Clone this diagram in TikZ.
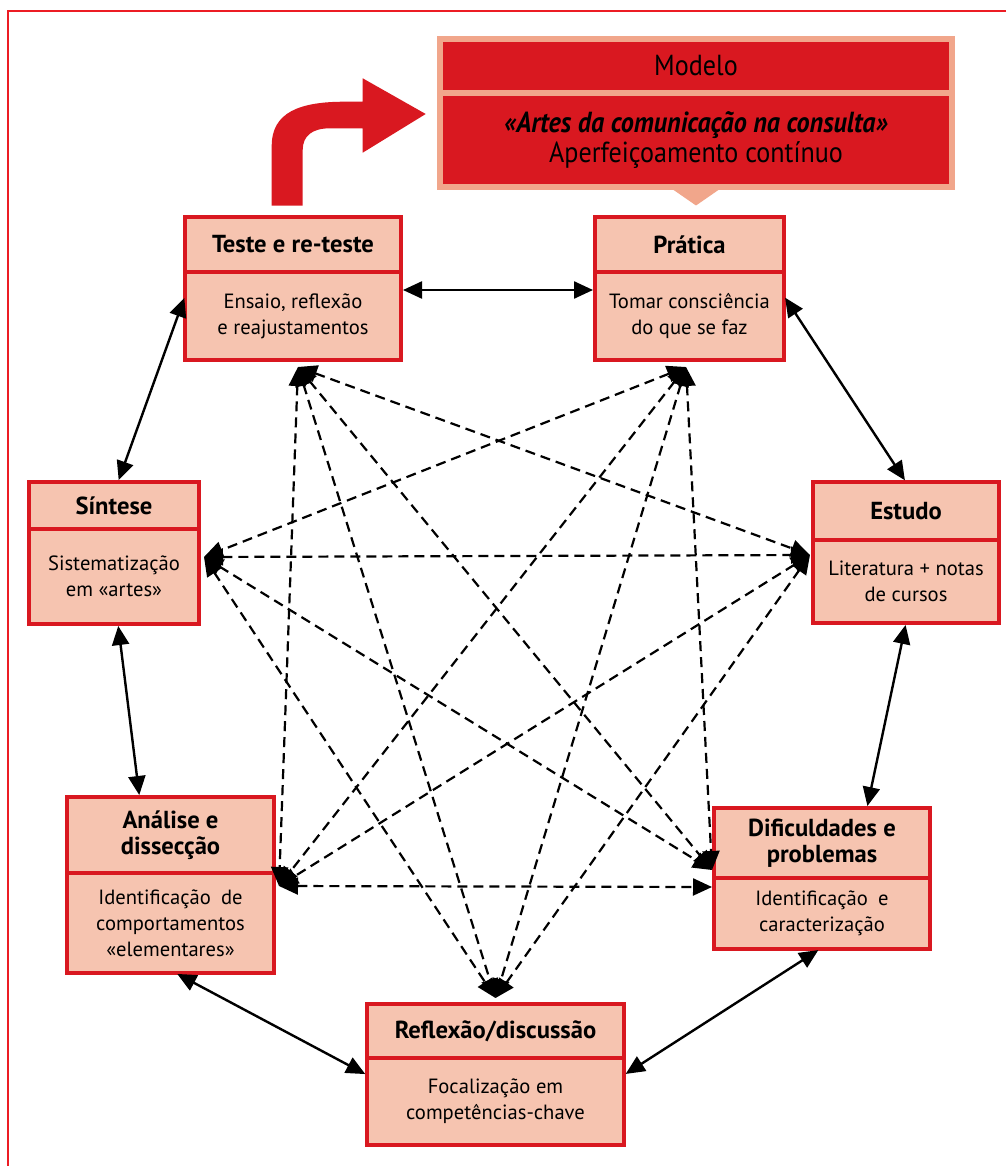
\documentclass[tikz,border=0pt]{standalone}
\usepackage{fontspec}
\setmainfont{PT Sans}
\newfontfamily\estreita[FakeStretch=0.9]{PT Sans}
\usetikzlibrary{arrows.meta}
\usetikzlibrary{positioning}
\definecolor{vermelho}{RGB}{217,24,32}
\definecolor{salmao}{RGB}{246,196,176}
\definecolor{salmaoforte}{RGB}{241,166,139}
\definecolor{moldura}{RGB}{236,28,36}

\begin{document}
\begin{tikzpicture}[x=0.5pt,y=-0.5pt]
	\tikzstyle{titulo}=[draw=vermelho,fill=salmao,line width=2.2pt,outer sep=0pt,align=center,font=\bfseries\fontsize{12.3}{13}\selectfont]
	\tikzstyle{corpo}=[draw=vermelho,fill=salmao,line width=2.2pt,outer sep=0pt,align=center,font=\fontsize{10.3}{13}\selectfont]
	\tikzstyle{modelo}=[draw=salmaoforte,fill=vermelho,line width=3pt,outer sep=0pt,minimum width=256pt,align=center,font=\estreita\fontsize{14.5}{15}\selectfont]
	\tikzstyle{liga}=[{Triangle[length=9.5pt,width=8.5pt]}-{Triangle[length=9.5pt,width=8.5pt]},line width=1.2pt,shorten >=1pt,shorten <=1pt]
	\tikzstyle{tracejado}=[liga,line width=1.1pt,shorten >=0pt,shorten <=0pt,dash pattern=on 5pt off 3pt]
	\useasboundingbox (0,0) rectangle (1006,1166);
	\draw[moldura,line width=0.9pt] (1006,11) -- (8,11) -- (8,1166);

	\node[modelo,minimum height=27pt] (modelo) at (696,66) {Modelo};
	\node[modelo,minimum height=47.25pt,below=0pt of modelo] (artes) {\textbf{\textit{«Artes da comunicação na consulta»}}\\Aperfeiçoamento contínuo};
	\fill[salmaoforte] ([xshift=-13pt]artes.south) -- ([xshift=13pt]artes.south) -- ([yshift=-9pt]artes.south) -- cycle;
	\fill[vermelho] (271.7,205.7) -- (271.7,146) .. controls (271.7,112) and (300,101.7) .. (345,101.7) -- (362.7,101.7) -- (362.7,78.3) -- (425.7,114) -- (362.7,152.7) -- (362.7,128.3) -- (330,128.3) .. controls (312,128.3) and (302.7,136) .. (302.7,150) -- (302.7,205.7) -- cycle;

	\node[titulo,minimum width=108pt,minimum height=27.5pt] (teste) at (293,244.5) {Teste e re-teste};
	\node[corpo,minimum width=108pt,minimum height=44pt,below=0pt of teste] (testeb) {Ensaio, reflexão\\e reajustamentos};
	\node[titulo,minimum width=94.5pt,minimum height=27.5pt] (pratica) at (689.5,244.5) {Prática};
	\node[corpo,minimum width=94.5pt,minimum height=44pt,below=0pt of pratica] (praticab) {Tomar consciência\\do que se faz};
	\node[titulo,minimum width=85pt,minimum height=23.5pt] (sintese) at (114,505.5) {Síntese};
	\node[corpo,minimum width=85pt,minimum height=47.5pt,below=0pt of sintese] (sinteseb) {Sistematização\\em «artes»};
	\node[titulo,minimum width=93pt,minimum height=29pt] (estudo) at (906,511) {Estudo};
	\node[corpo,minimum width=93pt,minimum height=41.5pt,below=0pt of estudo] (estudob) {Literatura + notas\\de cursos};
	\node[titulo,minimum width=103.5pt,minimum height=38pt] (analise) at (170.5,835) {Análise e\\dissecção};
	\node[corpo,minimum width=103.5pt,minimum height=50pt,below=0pt of analise] (analiseb) {Identificação\enspace de\\comportamentos\\«elementares»};
	\node[titulo,minimum width=108pt,minimum height=35pt] (dific) at (822,843) {Dificuldades e\\problemas};
	\node[corpo,minimum width=108pt,minimum height=35.5pt,below=0pt of dific] (dificb) {Identificação\enspace e\\caracterização};
	\node[titulo,minimum width=128.5pt,minimum height=27pt] (reflexao) at (495.5,1031) {Reflexão/discussão};
	\node[corpo,minimum width=128.5pt,minimum height=43.5pt,below=0pt of reflexao] (reflexaob) {Focalização em\\competências-chave};

	\draw[liga] ([yshift=-9pt]testeb.north east) -- ([yshift=-9pt]praticab.north west);
	\draw[liga] ([yshift=-12pt]testeb.north west) -- ([xshift=2pt]sintese.north);
	\draw[liga] ([yshift=-12pt]praticab.north east) -- (estudo.north);
	\draw[liga] ([xshift=2pt]sinteseb.south) -- ([xshift=-15.5pt]analise.north);
	\draw[liga] (estudob.south) -- ([xshift=22.5pt]dific.north);
	\draw[liga] ([xshift=2.5pt]analiseb.south) -- ([yshift=-8.5pt]reflexaob.north west);
	\draw[liga] ([xshift=-1pt]dificb.south) -- ([yshift=-8.5pt]reflexaob.north east);

	\coordinate (hT) at ([xshift=2.5pt,yshift=-3.5pt]testeb.south);
	\coordinate (hP) at ([xshift=-1.75pt,yshift=-3.5pt]praticab.south);
	\coordinate (hS) at ([xshift=2.5pt,yshift=-14pt]sinteseb.north east);
	\coordinate (hE) at ([xshift=-1.5pt,yshift=-7.5pt]estudob.north west);
	\coordinate (hA) at ([xshift=2.5pt,yshift=-6.5pt]analiseb.north east);
	\coordinate (hD) at ([xshift=-1pt,yshift=4pt]dificb.north west);
	\coordinate (hDh) at ([xshift=-1pt,yshift=-4.5pt]dificb.north west);
	\coordinate (hR) at ([yshift=3pt]reflexao.north);
	\draw[tracejado] (hT) -- (hA);
	\draw[tracejado] (hT) -- (hR);
	\draw[tracejado] (hT) -- (hD);
	\draw[tracejado] (hT) -- (hE);
	\draw[tracejado] (hP) -- (hS);
	\draw[tracejado] (hP) -- (hA);
	\draw[tracejado] (hP) -- (hR);
	\draw[tracejado] (hP) -- (hD);
	\draw[tracejado] (hS) -- (hE);
	\draw[tracejado] (hS) -- (hD);
	\draw[tracejado] (hS) -- (hR);
	\draw[tracejado] (hE) -- (hA);
	\draw[tracejado] (hE) -- (hR);
	\draw[tracejado] (hA) -- (hDh);
\end{tikzpicture}
\end{document}
